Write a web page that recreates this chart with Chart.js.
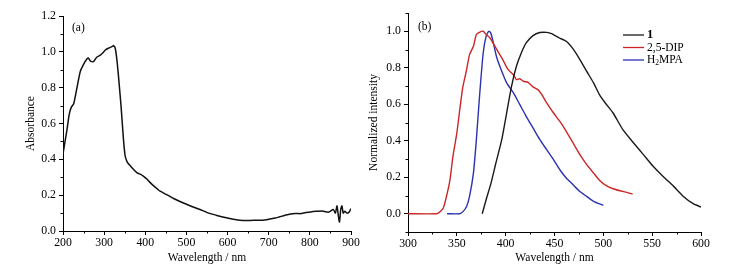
<!DOCTYPE html>
<html>
<head>
<meta charset="utf-8">
<script src="https://cdn.jsdelivr.net/npm/chart.js@4.4.0/dist/chart.umd.min.js"></script>
<style>
    body { margin: 0; background: #fff; }
    #wrap { position: relative; width: 741px; height: 269px; }
    canvas { position: absolute; top: 0; }
</style>
</head>
<body>
<div id="wrap">
    <canvas id="absChart" width="370" height="269" style="left:0"></canvas>
    <canvas id="emChart" width="381" height="269" style="left:360px"></canvas>
</div>
<script>
// (a) absorbance spectrum
const wavelengthA = [200, 205, 210, 215, 220, 226, 234, 242, 250, 258, 262, 266, 274, 282, 290, 297, 303, 310, 315, 320, 323, 327, 331, 335, 341, 347, 351, 355, 359, 365, 371, 380, 390, 396, 404, 412, 424, 436, 452, 470, 493, 513, 533, 554, 574, 594, 614, 630, 645, 655, 670, 685, 695, 705, 715, 725, 736, 750, 765, 777, 790, 805, 817, 830, 845, 857, 862, 866, 869, 872, 875, 878, 881, 885, 890, 895, 900];
const absorbance = [0.43, 0.50, 0.57, 0.65, 0.69, 0.71, 0.80, 0.89, 0.93, 0.96, 0.965, 0.95, 0.945, 0.97, 0.98, 0.995, 1.01, 1.02, 1.025, 1.03, 1.035, 1.02, 0.955, 0.86, 0.70, 0.51, 0.42, 0.39, 0.375, 0.36, 0.345, 0.325, 0.315, 0.305, 0.29, 0.27, 0.245, 0.222, 0.203, 0.18, 0.156, 0.137, 0.12, 0.10, 0.087, 0.075, 0.065, 0.06, 0.058, 0.059, 0.06, 0.06, 0.063, 0.068, 0.072, 0.078, 0.085, 0.093, 0.098, 0.097, 0.103, 0.108, 0.11, 0.112, 0.105, 0.12, 0.10, 0.14, 0.09, 0.05, 0.12, 0.14, 0.10, 0.11, 0.10, 0.105, 0.125];

// (b) normalized emission spectra
const wavelength1 = [376, 380, 385, 390, 396, 401, 406, 411, 416, 421, 428, 435, 442, 447, 455, 462, 469, 476, 483, 490, 496, 502, 510, 520, 531, 541, 551, 561, 572, 582, 592, 600];
const intensity1 = [0, 0.077, 0.168, 0.278, 0.406, 0.552, 0.698, 0.808, 0.881, 0.936, 0.976, 0.993, 0.994, 0.987, 0.963, 0.945, 0.903, 0.845, 0.78, 0.717, 0.653, 0.607, 0.552, 0.461, 0.388, 0.324, 0.26, 0.205, 0.15, 0.095, 0.055, 0.037];

const wavelengthDip = [300, 329, 332.5, 336, 339, 343, 346, 350, 353, 356, 360, 363, 367, 370, 373.5, 377, 380, 384, 387, 392, 397, 402.5, 408, 411, 414.5, 418, 423, 428, 433, 437, 442, 449, 455.5, 462, 469, 476, 483, 490, 496.5, 503, 510, 517, 524, 530];
const intensityDip = [0, 0, 0.01, 0.03, 0.086, 0.186, 0.314, 0.442, 0.57, 0.69, 0.79, 0.872, 0.918, 0.982, 0.995, 1.0, 0.982, 0.963, 0.936, 0.89, 0.845, 0.79, 0.762, 0.735, 0.74, 0.726, 0.72, 0.695, 0.68, 0.653, 0.607, 0.552, 0.506, 0.452, 0.388, 0.324, 0.269, 0.223, 0.181, 0.154, 0.137, 0.126, 0.117, 0.108];

const wavelengthMpa = [340, 353, 356.5, 360, 363, 367, 370, 373.5, 377, 380, 382.7, 384.7, 387, 390.5, 394, 401, 408, 414.5, 421, 428, 435, 442, 449, 455.5, 462, 469, 476, 483, 490, 500];
const intensityMpa = [0, 0, 0.013, 0.04, 0.095, 0.223, 0.406, 0.662, 0.881, 0.973, 1.0, 0.991, 0.945, 0.863, 0.808, 0.717, 0.662, 0.598, 0.534, 0.47, 0.406, 0.351, 0.296, 0.241, 0.196, 0.159, 0.122, 0.095, 0.068, 0.046];

// ticks
const xTicksA = [200, 300, 400, 500, 600, 700, 800, 900];
const xMinorA = [250, 350, 450, 550, 650, 750, 850];
const yTicksA = [0, 0.2, 0.4, 0.6, 0.8, 1.0, 1.2];
const yMinorA = [0.1, 0.3, 0.5, 0.7, 0.9, 1.1];
const xTicksB = [300, 350, 400, 450, 500, 550, 600];
const xMinorB = [325, 375, 425, 475, 525, 575];
const yTicksB = [0, 0.2, 0.4, 0.6, 0.8, 1.0];
const yMinorB = [-0.1, 0.1, 0.3, 0.5, 0.7, 0.9, 1.1];

const SERIF = "'Liberation Serif', 'DejaVu Serif', serif";

document.addEventListener('DOMContentLoaded', function() {
    Chart.defaults.font.family = SERIF;
    Chart.defaults.color = '#000';
    initializeAbsorbanceChart();
    initializeEmissionChart();
});

// draws the short minor ticks and the panel letter
const extrasPlugin = {
    id: 'extras',
    afterDraw(chart, args, opts) {
        const ctx = chart.ctx;
        const xs = chart.scales.x;
        const ys = chart.scales.y;
        ctx.save();
        ctx.strokeStyle = '#000';
        ctx.lineWidth = 1;
        ctx.beginPath();
        opts.xMinor.forEach(v => {
            const px = Math.round(xs.getPixelForValue(v)) + 0.5;
            ctx.moveTo(px, xs.top);
            ctx.lineTo(px, xs.top + 2.5);
        });
        opts.yMinor.forEach(v => {
            const py = Math.round(ys.getPixelForValue(v)) + 0.5;
            ctx.moveTo(ys.right, py);
            ctx.lineTo(ys.right - 2.5, py);
        });
        ctx.stroke();

        ctx.fillStyle = '#000';
        ctx.font = '11.5px ' + SERIF;
        ctx.textBaseline = 'middle';
        ctx.fillText(opts.label, chart.chartArea.left + opts.labelDx, opts.labelY);
        ctx.restore();
    }
};

// legend for panel (b), with the subscript in H2MPA
const legendPlugin = {
    id: 'specLegend',
    afterDraw(chart, args, opts) {
        const ctx = chart.ctx;
        ctx.save();
        ctx.textBaseline = 'middle';
        chart.data.datasets.forEach((ds, i) => {
            const y = opts.top + i * 12.5;
            ctx.strokeStyle = ds.borderColor;
            ctx.lineWidth = 1.3;
            ctx.beginPath();
            ctx.moveTo(opts.left, y);
            ctx.lineTo(opts.left + 21, y);
            ctx.stroke();
            ctx.fillStyle = '#000';
            let x = opts.left + 24;
            if (ds.label === '1') {
                ctx.font = 'bold 12.5px ' + SERIF;
                ctx.fillText('1', x, y);
            } else if (ds.label === 'H2MPA') {
                ctx.font = '11.5px ' + SERIF;
                ctx.fillText('H', x, y);
                x += ctx.measureText('H').width;
                ctx.font = '7.5px ' + SERIF;
                ctx.fillText('2', x, y + 3);
                x += ctx.measureText('2').width;
                ctx.font = '11.5px ' + SERIF;
                ctx.fillText('MPA', x, y);
            } else {
                ctx.font = '11.5px ' + SERIF;
                ctx.fillText(ds.label, x, y);
            }
        });
        ctx.restore();
    }
};

function toPoints(xs, ys) {
    return xs.map((x, i) => ({ x: x, y: ys[i] }));
}

function axis(min, max, ticks, fmt, fitSize, horizontal, title, titlePad) {
    return {
        type: 'linear',
        min: min,
        max: max,
        afterBuildTicks: s => { s.ticks = ticks.map(v => ({ value: v })); },
        afterFit: s => { if (horizontal) { s.height = fitSize; } else { s.width = fitSize; } },
        grid: { drawOnChartArea: false, drawTicks: true, tickLength: 4, color: '#000' },
        border: { display: true, color: '#000', width: 1 },
        ticks: {
            autoSkip: false,
            maxRotation: 0,
            padding: horizontal ? 1 : 3,
            font: { size: 11.8 },
            callback: fmt
        },
        title: {
            display: true,
            text: title,
            font: { size: 11.5 },
            padding: titlePad
        }
    };
}

function initializeAbsorbanceChart() {
    const ctx = document.getElementById('absChart').getContext('2d');
    new Chart(ctx, {
        type: 'line',
        data: {
            datasets: [{
                label: 'Absorbance',
                data: toPoints(wavelengthA, absorbance),
                borderColor: '#111',
                borderWidth: 1.5,
                pointRadius: 0,
                tension: 0.2
            }]
        },
        options: {
            responsive: false,
            animation: false,
            devicePixelRatio: 1,
            layout: { padding: { top: 16, right: 19, bottom: 0, left: 0 } },
            plugins: {
                legend: { display: false },
                tooltip: { enabled: false },
                extras: { xMinor: xMinorA, yMinor: yMinorA, label: '(a)', labelDx: 9, labelY: 28 }
            },
            scales: {
                x: axis(200, 900, xTicksA, v => v, 38, true, 'Wavelength / nm', { top: 0, bottom: 4 }),
                y: axis(0, 1.2, yTicksA, v => v.toFixed(1), 63, false, 'Absorbance', { top: 24, bottom: 0 })
            }
        },
        plugins: [extrasPlugin]
    });
}

function initializeEmissionChart() {
    const ctx = document.getElementById('emChart').getContext('2d');
    new Chart(ctx, {
        type: 'line',
        data: {
            datasets: [
                {
                    label: '1',
                    data: toPoints(wavelength1, intensity1),
                    borderColor: '#1a1a1a',
                    borderWidth: 1.4,
                    pointRadius: 0,
                    tension: 0.2
                },
                {
                    label: '2,5-DIP',
                    data: toPoints(wavelengthDip, intensityDip),
                    borderColor: '#cc2626',
                    borderWidth: 1.4,
                    pointRadius: 0,
                    tension: 0.2
                },
                {
                    label: 'H2MPA',
                    data: toPoints(wavelengthMpa, intensityMpa),
                    borderColor: '#2a32b0',
                    borderWidth: 1.4,
                    pointRadius: 0,
                    tension: 0.2
                }
            ]
        },
        options: {
            responsive: false,
            animation: false,
            devicePixelRatio: 1,
            layout: { padding: { top: 13, right: 40, bottom: 0, left: 0 } },
            plugins: {
                legend: { display: false },
                tooltip: { enabled: false },
                extras: { xMinor: xMinorB, yMinor: yMinorB, label: '(b)', labelDx: 10, labelY: 27 },
                specLegend: { left: 263, top: 35 }
            },
            scales: {
                x: axis(300, 600, xTicksB, v => v, 37, true, 'Wavelength / nm', { top: 0, bottom: 4 }),
                y: axis(-0.1, 1.1, yTicksB, v => v.toFixed(1), 48, false, 'Normalized intensity', { top: 7, bottom: 0 })
            }
        },
        plugins: [extrasPlugin, legendPlugin]
    });
}
</script>
</body>
</html>
